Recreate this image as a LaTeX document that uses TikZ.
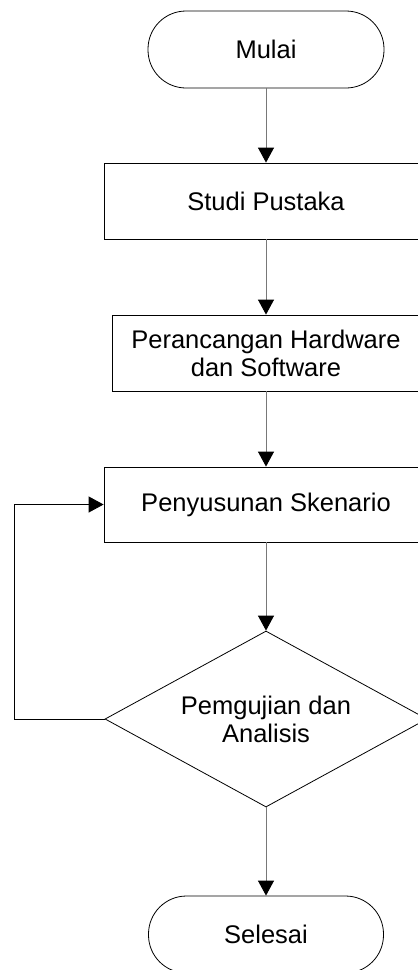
\documentclass[tikz,border=0pt]{standalone}
\usepackage{fontspec}
\setmainfont{Liberation Sans}
\usepackage{xcolor}
\definecolor{ggray}{HTML}{787878}
\usetikzlibrary{arrows.meta}
\usetikzlibrary{shapes.geometric}
\begin{document}
\begin{tikzpicture}[x=1pt,y=-1pt,
		every node/.style={draw,line width=0.8pt,align=center,inner sep=0pt,font=\fontsize{25.5}{28}\selectfont},
		flow/.style={ggray,line width=1pt,-{Triangle[length=15pt,width=16pt,black]}}]
	\useasboundingbox (0,0) rectangle (418,970);
	\clip (0,0) rectangle (418,970);
	\node[rounded corners=38pt,minimum width=236pt,minimum height=77pt] (n0) at (266,49.5) {Mulai};
	\node[minimum width=324pt,minimum height=76pt] (n1) at (266,201) {Studi Pustaka};
	\node[minimum width=308pt,minimum height=76pt] (n2) at (266,353) {Perancangan Hardware\\dan Software};
	\node[minimum width=324pt,minimum height=75pt] (n3) at (266,504.5) {Penyusunan Skenario};
	\node[diamond,shape aspect=1.83,minimum width=322pt,minimum height=176pt] (n4) at (266,719) {Pemgujian dan\\Analisis};
	\node[rounded corners=38pt,minimum width=235pt,minimum height=77pt] (n5) at (266,934.5) {Selesai};
	\coordinate (c0) at (14,719);
	\draw (n0) edge [flow] (n1);
	\draw (n1) edge [flow] (n2);
	\draw (n2) edge [flow] (n3);
	\draw (n3) edge [flow] (n4);
	\draw (n4) edge [flow] (n5);
	\draw[line width=1pt,-{Triangle[length=15pt,width=16pt]}] (n4.west) -- (c0) |- (n3.west);
\end{tikzpicture}
\end{document}
